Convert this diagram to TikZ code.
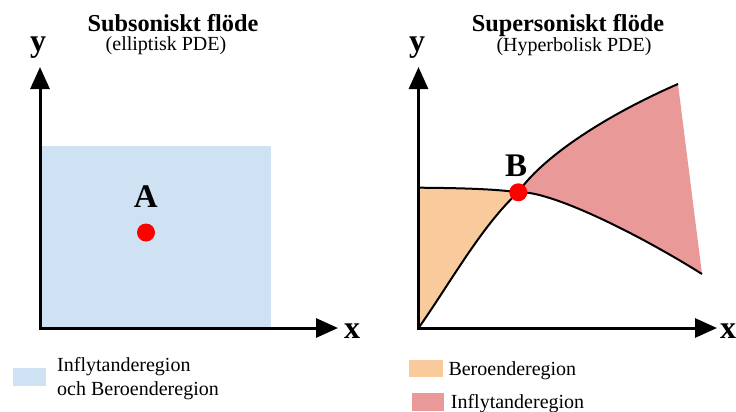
\documentclass[tikz,border=0pt]{standalone}
\usepackage{fontspec}
\setmainfont{Liberation Serif}
\usetikzlibrary{arrows.meta}
\definecolor{lblue}{HTML}{CFE2F3}
\definecolor{lorange}{HTML}{F9CB9C}
\definecolor{lred}{HTML}{EA9999}
\begin{document}
\begin{tikzpicture}[x=1pt,y=-1pt,
  axis/.style={line width=3pt,-{Triangle[length=22pt,width=19pt]}},
  curve/.style={line width=2pt},
  axlabel/.style={font=\fontsize{32}{32}\selectfont\bfseries,anchor=base,inner sep=0pt},
  ptlabel/.style={font=\fontsize{33}{33}\selectfont\bfseries,anchor=base,inner sep=0pt},
  title/.style={font=\fontsize{24.3}{24.3}\selectfont\bfseries,anchor=base,inner sep=0pt},
  subtitle/.style={font=\fontsize{20}{20}\selectfont,anchor=base,inner sep=0pt},
  legtext/.style={font=\fontsize{20}{23.3}\selectfont,anchor=base west,inner sep=0pt,align=left},
  dot/.style={circle,fill=red,minimum size=18pt,inner sep=0pt}]
\useasboundingbox (0,0) rectangle (736,412);

% ---------- left panel ----------
\fill[lblue] (40,146) rectangle (271,328);
\coordinate (Lo) at (40,328);
\coordinate (Ly) at (40,67);
\coordinate (Lx) at (338,328);
\draw[axis] ([xshift=-1.5pt]Lo) -- (Lx);
\draw[axis] ([yshift=1.5pt]Lo) -- (Ly);
\node[axlabel] (ly) at (38,51.6) {y};
\node[axlabel] (lx) at (352,338) {x};
\node[title] (t1) at (173,31.5) {Subsoniskt flöde};
\node[subtitle] (s1) at (166,51) {(elliptisk PDE)};
\node[ptlabel] (Alab) at (145.7,207.7) {A};
\node[dot] (A) at (146,232.5) {};

% ---------- right panel ----------
\coordinate (Ro) at (418.5,328);
\coordinate (Ry) at (418.5,67);
\coordinate (Rx) at (717,328);
\coordinate (L0) at (418.5,187.7);
\coordinate (Bc) at (518.3,192.3);
\coordinate (U1) at (678,84);
\coordinate (D1) at (702,274);

\fill[lorange] (L0) .. controls (460,188) and (495,189) .. (Bc)
  .. controls (482,225) and (447,288) .. (Ro) -- cycle;
\fill[lred] (Bc) .. controls (540,160) and (600,118) .. (U1) -- (D1)
  .. controls (640,235) and (550,190) .. (Bc) -- cycle;

\draw[curve] (L0) .. controls (460,188) and (495,189) .. (Bc);
\draw[curve] (Ro) .. controls (447,288) and (482,225) .. (Bc);
\draw[curve] (Bc) .. controls (540,160) and (600,118) .. (U1);
\draw[curve] (Bc) .. controls (550,190) and (640,235) .. (D1);

\draw[axis] ([xshift=-1.5pt]Ro) -- (Rx);
\draw[axis] ([yshift=1.5pt]Ro) -- (Ry);
\node[axlabel] (ry) at (417,51.6) {y};
\node[axlabel] (rx) at (728,338) {x};
\node[title] (t2) at (568,31.5) {Supersoniskt flöde};
\node[subtitle] (s2) at (574,52) {(Hyperbolisk PDE)};
\node[ptlabel] (Blab) at (516,176.7) {B};
\node[dot] (B) at (Bc) {};

% ---------- legends ----------
\fill[lblue] (12.7,367.7) rectangle (46,386);
\node[legtext] (leg1) at (57,395) {Inflytanderegion\\och Beroenderegion};
\fill[lorange] (409,360) rectangle (442.7,377.3);
\node[legtext] (leg2) at (448.3,375) {Beroenderegion};
\fill[lred] (411.7,393.3) rectangle (444.3,411);
\node[legtext] (leg3) at (450.7,408.3) {Inflytanderegion};
\end{tikzpicture}
\end{document}
